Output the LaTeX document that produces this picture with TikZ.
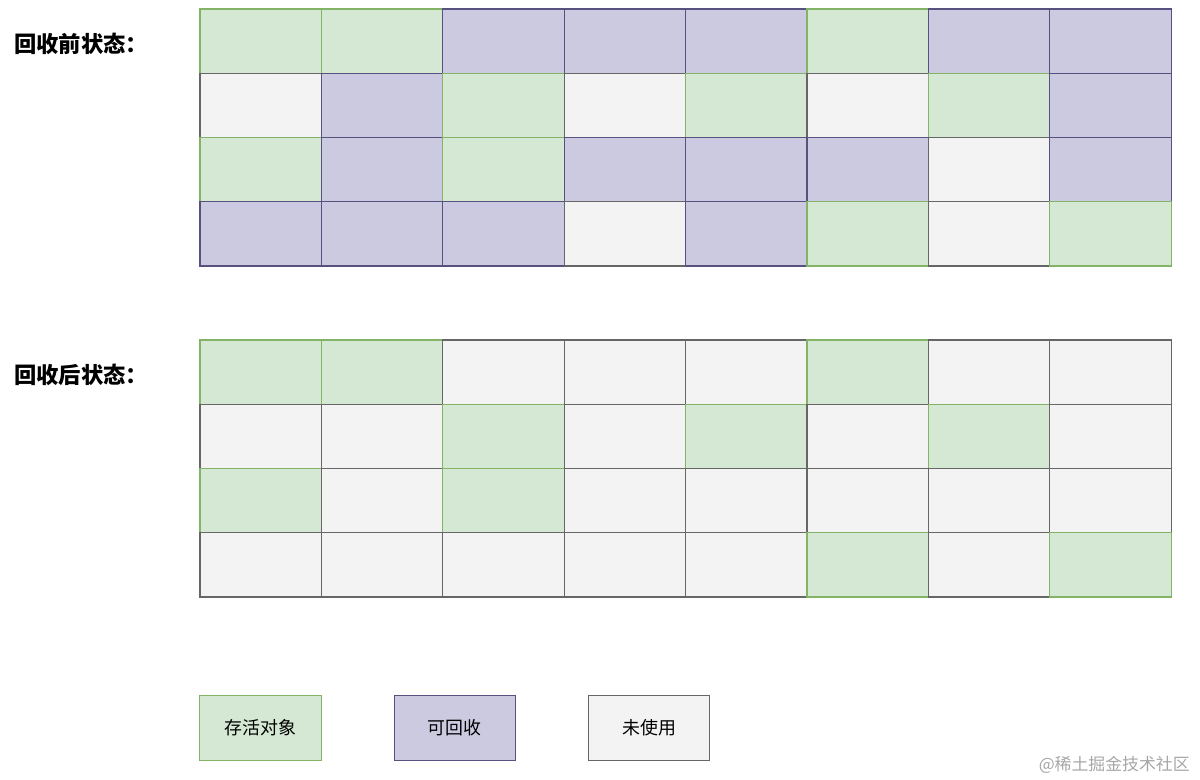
\documentclass[tikz,border=0pt]{standalone}
\usepackage{fontspec}
\setmainfont{Noto Sans CJK SC}
\usepackage{xcolor}
\usetikzlibrary{positioning}

\definecolor{liveFill}{HTML}{D5E8D4}
\definecolor{liveLine}{HTML}{82B366}
\definecolor{deadFill}{HTML}{CCCAE0}
\definecolor{deadLine}{HTML}{56517E}
\definecolor{freeFill}{HTML}{F3F3F3}
\definecolor{freeLine}{HTML}{666666}

\begin{document}
\begin{tikzpicture}[x=0.02cm,y=-0.02cm]
  \tikzstyle{cell}=[draw,line width=0.6pt,inner sep=0pt,outer sep=0pt,
    minimum width=2.428cm,minimum height=1.285cm,font=\fontsize{10.2}{12}\selectfont]
  \tikzstyle{alive}=[cell,fill=liveFill,draw=liveLine]
  \tikzstyle{garbage}=[cell,fill=deadFill,draw=deadLine]
  \tikzstyle{unused}=[cell,fill=freeFill,draw=freeLine]
  \tikzstyle{caption}=[anchor=west,inner sep=0pt,font=\fontsize{12.7}{15}\selectfont\bfseries]

  \useasboundingbox (0,0) rectangle (1200,779);

  % before collection
  \node[caption] (before) at (14,44) {回收前状态：};
  \foreach \row [count=\r] in {
      {alive,alive,garbage,garbage,garbage,alive,garbage,garbage},
      {unused,garbage,alive,unused,alive,unused,alive,garbage},
      {alive,garbage,alive,garbage,garbage,garbage,unused,garbage},
      {garbage,garbage,garbage,unused,garbage,alive,unused,alive}}
    \foreach \k [count=\c] in \row
      \node[\k] (pre-\r-\c) at ({200+121.4*(\c-1)+60.7},{9+64.25*(\r-1)+32.1}) {};

  % after collection
  \node[caption] (after) at (14,375) {回收后状态：};
  \foreach \row [count=\r] in {
      {alive,alive,unused,unused,unused,alive,unused,unused},
      {unused,unused,alive,unused,alive,unused,alive,unused},
      {alive,unused,alive,unused,unused,unused,unused,unused},
      {unused,unused,unused,unused,unused,alive,unused,alive}}
    \foreach \k [count=\c] in \row
      \node[\k] (post-\r-\c) at ({200+121.4*(\c-1)+60.7},{340+64.25*(\r-1)+32.1}) {};

  % legend
  \node[alive]   (keyAlive)   at (260.5,728)           {存活对象};
  \node[garbage] (keyGarbage) [right=1.46cm of keyAlive]   {可回收};
  \node[unused]  (keyUnused)  [right=1.46cm of keyGarbage] {未使用};

  \node[anchor=east,inner sep=0pt,text=black!35,font=\fontsize{9.6}{11}\selectfont]
    (mark) at (1190,765) {@稀土掘金技术社区};
\end{tikzpicture}
\end{document}
